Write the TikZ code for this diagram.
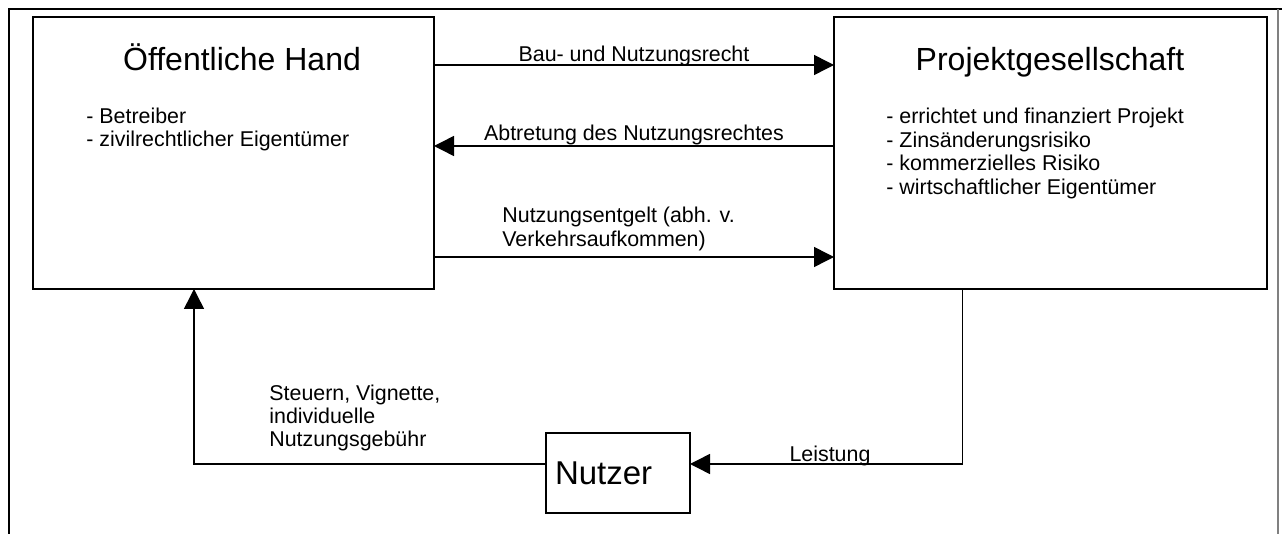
\documentclass[tikz,border=0pt]{standalone}
\usepackage{fontspec}
\setmainfont{Liberation Sans}
\usetikzlibrary{arrows.meta,positioning}

\tikzset{
  box/.style={draw, line width=1pt, rectangle, outer sep=0pt, inner sep=0pt},
  arr/.style={line width=0.75pt, -{Triangle[length=10pt,width=10pt]}},
  txt/.style={font=\fontsize{10.7}{12.5}\selectfont, inner sep=0pt},
  head/.style={font=\fontsize{16}{19}\selectfont, inner sep=0pt},
}

\begin{document}
\begin{tikzpicture}[x=0.5pt,y=-0.5pt]
    \useasboundingbox (0,0) rectangle (1282,534);
    % Frame
    \draw[line width=1pt] (9,534) -- (9,9) -- (1282,9);
    \draw[gray, line width=0.6pt] (1278,9) -- (1278,534);

    % Boxes
    \node[box, minimum width=200.5pt, minimum height=136pt] (hand) at (233.5,153) {};
    \node[box, minimum width=216.5pt, minimum height=136pt] (projekt) at (1050.5,153) {};
    \node[box, head, font=\fontsize{16.5}{19}\selectfont, minimum width=72pt, minimum height=40pt, text width=63pt, align=left, inner xsep=4pt] (nutzer) at (618,473) {Nutzer};

    % Titles
    \node[head, anchor=base] (handtitle) at (242,71) {Öffentliche Hand};
    \node[head, anchor=base] (projekttitle) at (1050,71) {Projektgesellschaft};

    % Lists
    \foreach \t [count=\i] in {Betreiber, zivilrechtlicher Eigentümer} {
        \node[txt, anchor=base west] (hb\i) at (86,{101+23*\i}) {- \t};
    }
    \foreach \t [count=\i] in {errichtet und finanziert Projekt, Zinsänderungsrisiko, kommerzielles Risiko, wirtschaftlicher Eigentümer} {
        \node[txt, anchor=base west] (pb\i) at (886,{100.5+23.5*\i}) {- \t};
    }

    % Levels of the connectors
    \coordinate (y1) at (0,65);
    \coordinate (y2) at (0,146);
    \coordinate (y3) at (0,257);
    \coordinate (y4) at (0,464);
    \coordinate (x1) at (194,0);
    \coordinate (x2) at (962.5,0);

    % Connections
    \draw[arr] (hand.east |- y1) -- node[txt, anchor=base, yshift=1.5pt] (bau) {Bau- und Nutzungsrecht} (projekt.west |- y1);
    \draw[arr] (projekt.west |- y2) -- node[txt, anchor=base, yshift=2.5pt] (abtr) {Abtretung des Nutzungsrechtes} (hand.east |- y2);
    \draw[arr] (hand.east |- y3) -- (projekt.west |- y3);
    \foreach \t [count=\i] in {Nutzungsentgelt (abh. v., Verkehrsaufkommen)} {
        \node[txt, anchor=base west] (ent\i) at (502,{199+24*\i}) {\t};
    }
    \draw[arr] (projekt.south -| x2) |- (nutzer.east |- y4);
    \node[txt, anchor=base] (leist) at (830,462) {Leistung};
    \draw[arr] (nutzer.west |- y4) -| (hand.south -| x1);
    \foreach \t [count=\i] in {{Steuern, Vignette,}, individuelle, Nutzungsgebühr} {
        \node[txt, anchor=base west] (st\i) at (269,{378+23*\i}) {\t};
    }
\end{tikzpicture}
\end{document}
